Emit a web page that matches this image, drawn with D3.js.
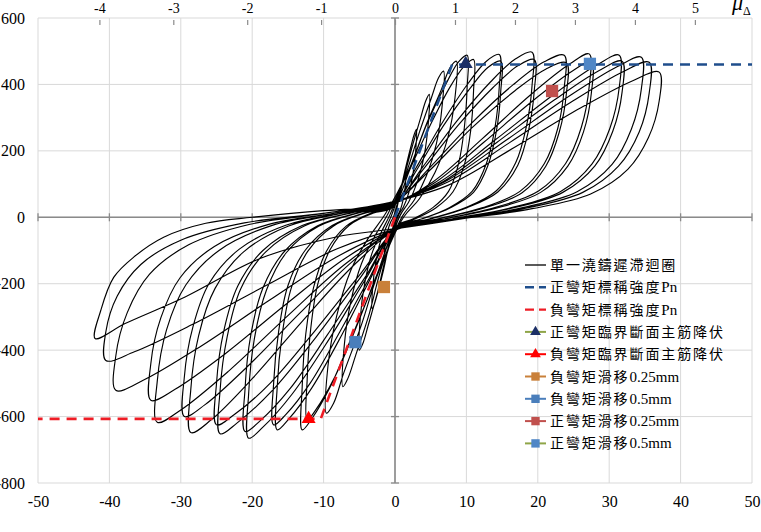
<!DOCTYPE html>
<html>
<head>
<meta charset="utf-8">
<script src="https://cdn.jsdelivr.net/npm/d3@7"></script>
<style>
  body { margin: 0; background: #fff; }
  svg text { font-family: "Liberation Serif", "Times New Roman", "Noto Sans CJK TC", serif; fill: #000; }
</style>
</head>
<body>
<div id="chart"></div>
<script>
// axis ticks
const xTicks = [-50, -40, -30, -20, -10, 0, 10, 20, 30, 40, 50];
const yTicks = [-800, -600, -400, -200, 0, 200, 400, 600];
const muTicks = [-4, -3, -2, -1, 0, 1, 2, 3, 4, 5];
// yield displacement (mm) used by the top ductility axis
const yieldDispPos = 8.4;
const yieldDispNeg = 10.35;

// hysteresis record, one array per cycle [drift mm, moment]
const cycles = [
  [[0,0],[0.4,40],[0.8,78],[1.1,105],[1.35,123],[1.5,130],[1.45,98],[1.25,65],[0.95,36],[0.6,15],[0.2,0],
   [-0.4,-38],[-0.8,-75],[-1.1,-105],[-1.35,-123],[-1.5,-130],[-1.45,-97],[-1.25,-63],[-0.95,-35],[-0.6,-14],[-0.2,2]],
  [[0.7,75],[1.5,150],[2.25,215],[2.7,250],[3,265],[2.9,200],[2.55,135],[1.95,75],[1.2,32],[0.45,4],
   [-0.8,-80],[-1.6,-158],[-2.4,-225],[-2.9,-262],[-3.2,-275],[-3.1,-205],[-2.7,-138],[-2.1,-77],[-1.3,-33],[-0.5,5]],
  [[1.1,110],[2.4,212],[3.6,300],[4.3,350],[4.8,370],[4.65,280],[4.1,188],[3.1,105],[1.9,45],[0.7,5],
   [-1.2,-115],[-2.5,-230],[-3.75,-325],[-4.5,-380],[-5,-400],[-4.85,-300],[-4.25,-200],[-3.25,-110],[-2,-48],[-0.7,8]],
  [[1.6,135],[3.4,255],[5.1,360],[6.1,420],[6.8,440],[6.6,335],[5.8,222],[4.4,125],[2.7,52],[1,2],
   [-1.8,-145],[-3.6,-290],[-5.5,-415],[-6.6,-485],[-7.3,-510],[-7.1,-385],[-6.2,-255],[-4.7,-140],[-2.9,-60],[-1,10]],
  [[2,145],[4.3,275],[6.5,385],[7.7,450],[8.6,470],[8.4,360],[7.4,240],[5.6,135],[3.4,55],[1.2,0],
   [-2.3,-165],[-4.8,-330],[-7.2,-470],[-8.6,-560],[-9.6,-590],[-9.4,-450],[-8.2,-300],[-6.2,-160],[-3.8,-65],[-1.3,12]],
  [[2,146],[4.5,283],[7.1,400],[8.9,468],[10.1,488],[10.1,390],[9.7,268],[8.9,161],[7.5,78],[5.3,29],[2.5,-5],[0.3,-25],
   [-2.5,-171],[-5.5,-335],[-8.6,-488],[-11.1,-580],[-12.3,-610],[-12.3,-488],[-11.8,-335],[-10.8,-200],[-9.1,-98],[-6.4,-24],[-3.1,12],[-0.3,30]],
  [[2.2,150],[5,280],[7.7,392],[9.7,455],[11,475],[11,380],[10.6,261],[9.7,157],[8.1,76],[5.7,28],[2.8,-5],[0.3,-28],
   [-2.6,-180],[-5.9,-352],[-9.1,-512],[-11.7,-608],[-13,-640],[-13,-512],[-12.5,-352],[-11.4,-211],[-9.6,-102],[-6.8,-26],[-3.3,13],[-0.3,32]],
  [[2.9,147],[6.6,284],[10.2,402],[12.8,470],[14.6,490],[14.6,392],[14,270],[12.8,162],[10.8,78],[7.6,29],[3.7,-5],[0.4,-28],
   [-3.3,-179],[-7.4,-352],[-11.6,-512],[-14.9,-608],[-16.5,-640],[-16.5,-512],[-15.8,-352],[-14.5,-211],[-12.2,-102],[-8.6,-26],[-4.1,13],[-0.3,33]],
  [[3,141],[6.7,273],[10.4,385],[13,451],[14.8,470],[14.8,376],[14.2,259],[13,155],[11,75],[7.7,28],[3.7,-5],[0.4,-28],
   [-3.4,-175],[-7.7,-344],[-11.9,-500],[-15.3,-594],[-17,-625],[-17,-500],[-16.3,-344],[-15,-206],[-12.6,-100],[-8.8,-25],[-4.3,13],[-0.3,34]],
  [[3.8,149],[8.6,288],[13.4,408],[16.9,477],[19.2,497],[19.2,398],[18.4,273],[16.9,164],[14.2,80],[10,30],[4.8,-5],[0.5,-28],
   [-4.1,-186],[-9.2,-366],[-14.4,-532],[-18.5,-632],[-20.5,-665],[-20.5,-532],[-19.7,-366],[-18,-219],[-15.2,-106],[-10.7,-27],[-5.1,13],[-0.4,35]],
  [[3.9,143],[8.8,276],[13.7,390],[17.2,456],[19.5,475],[19.5,380],[18.7,261],[17.2,157],[14.4,76],[10.1,29],[4.9,-5],[0.5,-28],
   [-4.2,-181],[-9.5,-355],[-14.7,-516],[-18.9,-613],[-21,-645],[-21,-516],[-20.2,-355],[-18.5,-213],[-15.5,-103],[-10.9,-26],[-5.3,13],[-0.4,36]],
  [[4.7,146],[10.7,283],[16.6,400],[20.9,468],[23.7,488],[23.7,390],[22.8,268],[20.9,161],[17.5,78],[12.3,29],[5.9,-5],[0.6,-30],
   [-4.9,-183],[-11,-359],[-17.2,-522],[-22.1,-619],[-24.5,-652],[-24.5,-522],[-23.5,-359],[-21.6,-215],[-18.1,-104],[-12.7,-26],[-6.1,13],[-0.5,38]],
  [[4.8,140],[10.8,270],[16.8,381],[21.1,446],[24,465],[24,372],[23,256],[21.1,153],[17.8,74],[12.5,28],[6,-5],[0.6,-30],
   [-5,-175],[-11.3,-344],[-17.5,-500],[-22.5,-594],[-25,-625],[-25,-500],[-24,-344],[-22,-206],[-18.5,-100],[-13,-25],[-6.3,13],[-0.5,38]],
  [[5.4,108],[12.2,236],[19,369],[24.5,462],[27.2,492],[27.2,394],[26.1,271],[23.9,162],[20.1,79],[14.1,30],[6.8,-5],[0.7,-30],
   [-5.7,-143],[-12.9,-311],[-20,-486],[-25.7,-609],[-28.6,-648],[-28.6,-518],[-27.5,-356],[-25.2,-214],[-21.2,-104],[-14.9,-26],[-7.2,13],[-0.6,40]],
  [[5.5,103],[12.4,225],[19.3,351],[24.8,440],[27.5,468],[27.5,374],[26.4,257],[24.2,154],[20.4,75],[14.3,28],[6.9,-5],[0.7,-30],
   [-5.9,-132],[-13.3,-288],[-20.7,-450],[-26.6,-564],[-29.5,-600],[-29.5,-480],[-28.3,-330],[-26,-198],[-21.8,-96],[-15.3,-24],[-7.4,13],[-0.6,40]],
  [[6.3,107],[14.1,234],[22,366],[28.3,459],[31.4,488],[31.4,390],[30.1,268],[27.6,161],[23.2,78],[16.3,29],[7.9,-5],[0.8,-32],
   [-6.7,-136],[-15,-296],[-23.3,-463],[-30,-580],[-33.3,-617],[-33.3,-494],[-32,-339],[-29.3,-204],[-24.6,-99],[-17.3,-25],[-8.3,13],[-0.7,42]],
  [[6.4,103],[14.3,226],[22.3,353],[28.6,442],[31.8,470],[31.8,376],[30.5,259],[28,155],[23.5,75],[16.5,28],[8,-5],[0.8,-32],
   [-6.8,-121],[-15.4,-264],[-23.9,-413],[-30.8,-518],[-34.2,-551],[-34.2,-441],[-32.8,-303],[-30.1,-182],[-25.3,-88],[-17.8,-22],[-8.6,12],[-0.7,42]],
  [[6.9,106],[15.5,231],[24.2,362],[31.1,453],[34.5,482],[34.5,386],[33.1,265],[30.4,159],[25.5,77],[17.9,29],[8.6,-5],[0.9,-32],
   [-7.8,-115],[-17.6,-250],[-27.4,-391],[-35.2,-490],[-39.1,-521],[-39.1,-417],[-37.5,-287],[-34.4,-172],[-28.9,-83],[-20.3,-21],[-9.8,12],[-0.8,44]],
  [[7.1,103],[16,224],[24.9,350],[32,439],[35.6,467],[35.6,374],[34.2,257],[31.3,154],[26.3,75],[18.5,28],[8.9,-5],[0.9,-32],
   [-8.1,-95],[-18.2,-207],[-28.4,-323],[-36.5,-405],[-40.5,-431],[-40.5,-345],[-38.9,-237],[-35.6,-142],[-30,-69],[-21.1,-17],[-10.1,12],[-0.8,44]],
  [[7.4,96],[16.7,210],[25.9,328],[33.3,411],[37,437],[37,350],[35.5,240],[32.6,144],[27.4,70],[19.2,26],[9.3,-5],[0.9,-32],
   [-8.4,-60],[-18.9,-124],[-29.4,-240],[-37.8,-320],[-42,-365],[-41.2,-280],[-39.4,-181],[-36.6,-120],[-32.4,-60],[-26.5,-18],[-20,0],[-10,20],[0,30]]
];

// nominal strength lines
const posNominal = [[0, 0], [8.0, 460], [50, 460]];
const negNominal = [[0, 0], [-10.4, -607], [-50, -607]];

// event markers
const posYield = [[9.9, 462]];
const negYield = [[-12.1, -607]];
const negSlip025 = [[-1.55, -210]];
const negSlip05 = [[-5.55, -376]];
const posSlip025 = [[22.0, 380]];
const posSlip05 = [[27.3, 462]];

// legend text: chinese part, latin suffix
const legendLabels = [
  ["單一澆鑄遲滯迴圈", ""],
  ["正彎矩標稱強度", "Pn"],
  ["負彎矩標稱強度", "Pn"],
  ["正彎矩臨界斷面主筋降伏", ""],
  ["負彎矩臨界斷面主筋降伏", ""],
  ["負彎矩滑移", "0.25mm"],
  ["負彎矩滑移", "0.5mm"],
  ["正彎矩滑移", "0.25mm"],
  ["正彎矩滑移", "0.5mm"]
];

const width = 761, height = 532;
const plotLeft = 38, plotRight = 752, plotTop = 18, plotBottom = 483;

const svg = d3.select("#chart").append("svg")
  .attr("width", width)
  .attr("height", height);

const x = d3.scaleLinear().domain([-50, 50]).range([plotLeft, plotRight]);
const y = d3.scaleLinear().domain([-800, 600]).range([plotBottom, plotTop]);
const mu = d3.scaleLinear()
  .domain([-50 / yieldDispNeg, 0, 50 / yieldDispPos])
  .range([plotLeft, x(0), plotRight]);

// grid
const grid = svg.append("g");
grid.selectAll(".vg").data(xTicks).enter().append("line")
  .attr("x1", d => x(d)).attr("x2", d => x(d))
  .attr("y1", plotTop).attr("y2", plotBottom)
  .attr("stroke", "#d9d9d9").attr("stroke-width", 1);
grid.selectAll(".hg").data(yTicks).enter().append("line")
  .attr("x1", plotLeft).attr("x2", plotRight)
  .attr("y1", d => y(d)).attr("y2", d => y(d))
  .attr("stroke", "#d9d9d9").attr("stroke-width", 1);

// zero axes with cross ticks
const zero = svg.append("g").attr("stroke", "#8a8a8a");
zero.append("line")
  .attr("x1", plotLeft).attr("x2", plotRight)
  .attr("y1", y(0)).attr("y2", y(0))
  .attr("stroke-width", 1.6);
zero.append("line")
  .attr("x1", x(0)).attr("x2", x(0))
  .attr("y1", plotTop).attr("y2", plotBottom)
  .attr("stroke-width", 1.6);
zero.selectAll(".xt").data(xTicks).enter().append("line")
  .attr("x1", d => x(d)).attr("x2", d => x(d))
  .attr("y1", y(0) - 4).attr("y2", y(0) + 4)
  .attr("stroke-width", 1.3);
zero.selectAll(".yt").data(yTicks).enter().append("line")
  .attr("x1", x(0) - 4).attr("x2", x(0) + 4)
  .attr("y1", d => y(d)).attr("y2", d => y(d))
  .attr("stroke-width", 1.3);

// axes labels (plain hyphen minus like the original sheet)
const plain = d => String(d);
const xAxis = svg.append("g")
  .attr("transform", `translate(0,${plotBottom})`)
  .call(d3.axisBottom(x).tickValues(xTicks).tickFormat(plain).tickSize(0).tickPadding(13));
const yAxis = svg.append("g")
  .attr("transform", `translate(${plotLeft},0)`)
  .call(d3.axisLeft(y).tickValues(yTicks).tickFormat(plain).tickSize(0).tickPadding(13));
const muAxis = svg.append("g")
  .attr("transform", `translate(0,${plotTop})`)
  .call(d3.axisTop(mu).tickValues(muTicks).tickFormat(plain).tickSizeInner(-7).tickSizeOuter(0).tickPadding(5));

[xAxis, yAxis, muAxis].forEach(a => {
  a.select(".domain").remove();
  a.selectAll("text").attr("font-size", 16).attr("fill", "#000")
    .style("font-family", "'Liberation Serif', serif");
});
muAxis.selectAll("text").attr("font-size", 14);
muAxis.selectAll(".tick line").attr("stroke", "#8a8a8a").attr("stroke-width", 1.2)
  .attr("y1", 2);

// mu label
const muLabel = svg.append("text")
  .attr("x", 732).attr("y", 10)
  .style("font-family", "'Liberation Serif', serif");
muLabel.append("tspan").attr("font-size", 22).attr("font-style", "italic").text("μ");
muLabel.append("tspan").attr("font-size", 12).attr("dy", 5).text("Δ");

// hysteresis loops
const line = d3.line()
  .x(d => x(d[0]))
  .y(d => y(d[1]))
  .curve(d3.curveCatmullRom.alpha(0.5));

svg.append("clipPath").attr("id", "plot-clip")
  .append("rect").attr("x", plotLeft).attr("y", plotTop)
  .attr("width", plotRight - plotLeft).attr("height", plotBottom - plotTop);

svg.append("path")
  .datum([[0, 0]].concat(d3.merge(cycles)))
  .attr("d", line)
  .attr("fill", "none")
  .attr("stroke", "#000")
  .attr("stroke-width", 1.15)
  .attr("stroke-linejoin", "round")
  .attr("clip-path", "url(#plot-clip)");

// nominal strength dashed lines
const straight = d3.line().x(d => x(d[0])).y(d => y(d[1]));
svg.append("path").datum(posNominal)
  .attr("d", straight).attr("fill", "none")
  .attr("stroke", "#1f4e8c").attr("stroke-width", 2.6)
  .attr("stroke-dasharray", "10,7");
svg.append("path").datum(negNominal)
  .attr("d", straight).attr("fill", "none")
  .attr("stroke", "#ee1c25").attr("stroke-width", 2.6)
  .attr("stroke-dasharray", "10,7");

// markers
const markerSets = [
  { data: posYield, shape: d3.symbolTriangle, size: 85, fill: "#1b2f66" },
  { data: negYield, shape: d3.symbolTriangle, size: 85, fill: "#ff0000" },
  { data: negSlip025, shape: d3.symbolSquare, size: 150, fill: "#c9803a" },
  { data: negSlip05, shape: d3.symbolSquare, size: 150, fill: "#4a7ebb" },
  { data: posSlip025, shape: d3.symbolSquare, size: 150, fill: "#c0504d" },
  { data: posSlip05, shape: d3.symbolSquare, size: 150, fill: "#4f86c6" }
];
markerSets.forEach(m => {
  svg.selectAll(null).data(m.data).enter().append("path")
    .attr("transform", d => `translate(${x(d[0])},${y(d[1])})`)
    .attr("d", d3.symbol().type(m.shape).size(m.size))
    .attr("fill", m.fill);
});

// legend
const legendItems = [
  { line: "#000", dash: null, width: 1.3 },
  { line: "#1f4e8c", dash: "9,5", width: 2.4 },
  { line: "#ee1c25", dash: "9,5", width: 2.4 },
  { line: "#8fa548", width: 2, shape: d3.symbolTriangle, size: 50, fill: "#1b2f66" },
  { line: "#ff0000", width: 2, shape: d3.symbolTriangle, size: 50, fill: "#ff0000" },
  { line: "#c9803a", width: 2, shape: d3.symbolSquare, size: 70, fill: "#c9803a" },
  { line: "#4a7ebb", width: 2, shape: d3.symbolSquare, size: 70, fill: "#4a7ebb" },
  { line: "#c0504d", width: 2, shape: d3.symbolSquare, size: 70, fill: "#c0504d" },
  { line: "#8fa548", width: 2, shape: d3.symbolSquare, size: 70, fill: "#4f86c6" }
];

const legend = svg.append("g").attr("class", "legend")
  .attr("transform", "translate(525, 265)");

const rows = legend.selectAll(".row").data(legendItems).enter().append("g")
  .attr("transform", (d, i) => `translate(0, ${i * 22.3})`);

rows.append("line")
  .attr("x1", 0).attr("x2", 21)
  .attr("stroke", d => d.line)
  .attr("stroke-width", d => d.width)
  .attr("stroke-dasharray", d => d.dash);

rows.filter(d => d.shape).append("path")
  .attr("transform", "translate(10.5,0)")
  .attr("d", d => d3.symbol().type(d.shape).size(d.size)())
  .attr("fill", d => d.fill);

const labels = rows.append("text")
  .attr("x", 25)
  .attr("dy", "0.36em")
  .attr("font-size", 14);
labels.append("tspan")
  .attr("letter-spacing", 1.9)
  .text((d, i) => legendLabels[i][0]);
labels.append("tspan")
  .attr("font-size", 15)
  .text((d, i) => legendLabels[i][1]);
</script>
</body>
</html>
